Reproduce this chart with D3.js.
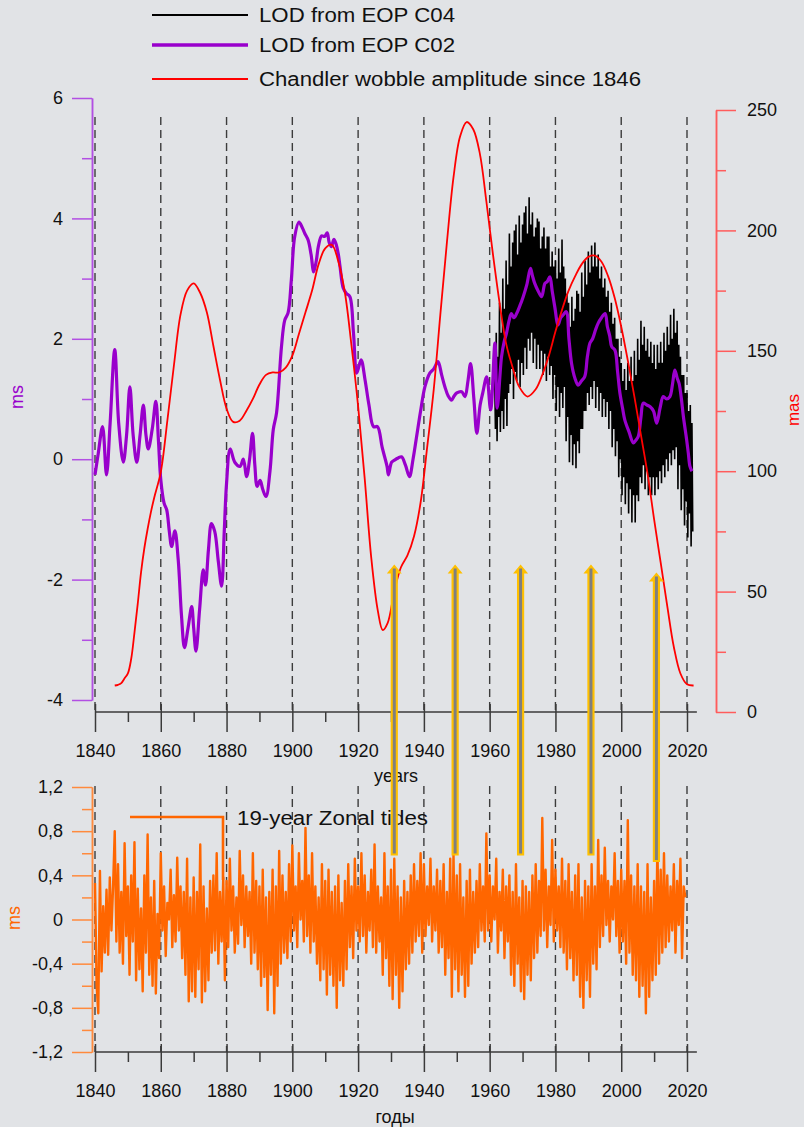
<!DOCTYPE html>
<html><head><meta charset="utf-8">
<script src="https://cdn.jsdelivr.net/npm/d3@7"></script>
<style>
body{margin:0;background:#e1e3e6}
svg{display:block}
text{font-family:Arial,"Liberation Sans",sans-serif}
</style></head>
<body><svg id="c" width="804" height="1127"></svg>
<script>
// ---------- DATA ----------
const yearTicks = [1840,1860,1880,1900,1920,1940,1960,1980,2000,2020];
const yearMinorTicks = [1850,1870,1890,1910,1930,1950,1970,1990,2010];
const msTicks = [-4,-2,0,2,4,6];
const msMinorTicks = [-3,-1,1,3,5];
const masTicks = [0,50,100,150,200,250];
const masMinorTicks = [25,75,125,175,225];
const tideTicks = [-1.2,-0.8,-0.4,0,0.4,0.8,1.2];
const tideMinorTicks = [-1.0,-0.6,-0.2,0.2,0.6,1.0];

// LOD from EOP C02 (ms)
const c02Years = [1840,1841,1842.3,1843.5,1844.6,1846,1847.2,1848.6,1849.6,1850.6,1851.6,1852.7,1853.7,1854.7,1855.5,1856.2,1857.4,1858.5,1859.3,1860,1861,1861.8,1862.6,1863.3,1864.3,1865.3,1866.3,1867.2,1868.3,1869.4,1870,1870.7,1871.8,1872.9,1873.6,1874.5,1875.4,1876.4,1877.5,1878.5,1879.3,1880,1881.1,1882.5,1884.1,1885.1,1886.1,1887,1887.9,1888.6,1889.3,1890.2,1891,1892,1893.2,1894.2,1895.2,1896.7,1897.7,1898.7,1899.7,1900.7,1902,1903,1903.8,1904.8,1905.7,1906.5,1907.3,1907.9,1908.9,1909.8,1910.6,1911.2,1911.9,1912.6,1913.2,1914,1914.5,1915.5,1916.5,1917.5,1918.6,1919.6,1920.9,1922.1,1923.3,1924.7,1925.9,1927.3,1928.8,1929.2,1930.2,1931.2,1932.2,1933.2,1934.4,1935.6,1936.7,1937.8,1939,1940.3,1941.8,1943,1944.3,1945.4,1946.4,1947.4,1948.4,1949.2,1950,1951.5,1952.5,1953.4,1954.2,1955.2,1956.1,1957.1,1957.9,1959.1,1960.3,1961.6,1962.3,1963.6,1964.4,1965.1,1965.9,1966.6,1967.4,1968.2,1969.2,1970.2,1971.3,1972.4,1973,1973.7,1974.7,1975.8,1976.8,1977.5,1978.3,1979,1979.8,1980.8,1981.6,1982.4,1983.3,1984.1,1984.9,1985.9,1986.9,1987.9,1988.9,1989.7,1990.5,1991.3,1992.2,1993,1994,1995.1,1995.8,1996.5,1997.1,1998.1,1998.9,1999.6,2000.4,2001.1,2002.4,2003.7,2004.5,2005.2,2006,2006.7,2007.8,2008.8,2009.8,2010.8,2011.8,2012.8,2013.8,2014.8,2015.6,2016.3,2017,2017.6,2018.3,2018.9,2019.9,2020.4,2020.9,2021.5];
const c02Values = [-0.26,0.1,0.54,-0.26,0.6,1.82,0.6,-0.05,0.4,1.2,0.4,-0.05,0.4,0.9,0.4,0.17,0.5,0.96,0.3,-0.34,-0.73,-0.84,-1.2,-1.45,-1.19,-1.67,-2.6,-3.13,-2.8,-2.45,-2.8,-3.19,-2.5,-1.84,-2.09,-1.5,-1.07,-1.2,-1.7,-2.11,-1.2,-0.4,0.17,-0.05,-0.12,0.0,-0.29,0.0,0.43,-0.1,-0.45,-0.35,-0.5,-0.62,-0.2,0.49,0.77,1.87,2.31,2.43,2.98,3.69,3.94,3.85,3.75,3.64,3.4,3.11,3.3,3.53,3.71,3.7,3.76,3.6,3.53,3.65,3.59,3.4,3.2,2.84,2.75,2.7,2.09,1.43,1.65,1.32,0.9,0.54,0.54,0.2,-0.12,-0.26,-0.05,-0.01,0.02,0.04,-0.1,-0.29,0.0,0.38,0.8,1.2,1.43,1.5,1.62,1.4,1.2,1.05,0.98,1.05,1.1,1.12,1.04,1.3,1.59,1.0,0.43,0.9,1.1,1.37,0.82,1.93,0.85,1.7,1.95,2.09,2.3,2.42,2.35,2.42,2.55,2.7,2.9,3.17,3.05,2.92,2.8,2.7,2.92,2.95,3.03,2.8,2.53,2.23,2.35,2.4,2.45,2.0,1.59,1.35,1.23,1.3,1.37,1.7,1.93,2.0,2.15,2.26,2.35,2.42,2.2,2.05,1.87,1.81,1.45,1.1,0.85,0.65,0.45,0.27,0.32,0.38,0.7,0.93,0.9,0.87,0.8,0.6,0.85,1.04,1.0,1.04,1.25,1.48,1.35,1.26,1.0,0.71,0.32,0.1,-0.12,-0.2];

// LOD from EOP C04 (ms), quarter-year samples from 1961.5
const c04Start = 1961.5, c04Step = 0.25;
const c04Values = [1.5,0.5,
2.1,0.3,1.7,0.7, 2.6,0.45,2.1,0.8, 3.0,0.5,2.5,1.0, 3.3,0.55,2.9,1.1, 3.75,1.25,3.2,1.5,
3.6,1.0,3.8,1.45, 3.9,1.3,3.4,1.65, 4.05,1.2,3.6,1.6, 3.9,1.4,4.1,1.85, 4.2,1.5,3.75,2.0,
4.35,1.8,3.9,2.1, 4.1,1.6,3.7,2.0, 3.85,1.5,4.0,1.9, 3.95,1.5,3.5,1.8, 3.7,1.4,3.85,1.75,
3.5,1.3,3.7,1.7, 3.7,1.4,3.2,1.55, 3.45,1.0,3.2,1.4, 3.3,0.8,3.0,1.2, 3.5,0.7,3.1,1.1,
3.65,0.85,3.2,1.2, 3.0,0.3,2.75,0.7, 2.6,-0.05,2.2,0.4, 2.7,-0.1,2.3,0.25, 2.5,-0.15,2.8,0.3,
2.75,0.1,2.45,0.5, 3.1,0.5,2.7,0.8, 3.3,0.8,2.9,1.1, 3.45,0.9,3.1,1.2, 3.55,1.0,3.2,1.3,
3.6,0.85,3.2,1.2, 3.4,0.8,3.0,1.1, 3.2,0.7,2.85,1.0, 3.0,0.7,2.7,0.95, 2.8,0.5,2.45,0.8,
2.6,0.2,2.25,0.5, 2.35,0.05,2.0,0.3, 2.0,-0.3,1.7,0.0, 1.6,-0.6,1.3,-0.3, 1.5,-0.75,1.15,-0.4,
1.6,-0.9,1.3,-0.5, 1.7,-1.05,1.3,-0.6, 1.8,-1.05,1.4,-0.6, 2.0,-0.7,1.65,-0.3, 2.3,-0.4,1.9,-0.1,
2.2,-0.5,1.8,-0.2, 2.0,-0.6,1.7,-0.3, 1.95,-0.6,1.6,-0.3, 1.9,-0.6,1.5,-0.3, 1.9,-0.5,1.6,-0.2,
1.95,-0.4,1.6,-0.1, 2.1,-0.3,1.8,0.0, 2.2,-0.2,1.9,0.1, 2.4,-0.1,2.0,0.15, 2.5,0.0,2.1,0.2,
2.3,-0.5,1.9,-0.1, 1.7,-0.85,1.4,-0.5, 1.4,-1.1,1.1,-0.7, 1.1,-1.3,0.8,-0.9, 0.9,-1.45,0.6,-1.2];

// Chandler wobble amplitude (mas)
const cwYears = [1846,1847,1848,1849,1850,1851,1852,1853,1854,1855,1856,1857,1858,1860,1862,1864,1866,1868,1870,1872,1874,1876,1878,1880,1882,1884,1886,1888,1890,1892,1894,1896,1898,1900,1902,1904,1906,1908,1910,1912,1914,1916,1918,1920,1922,1924,1926,1927.5,1929,1931,1933,1935,1937,1939,1941,1943,1945,1947,1949,1951,1953,1955,1957,1959,1961,1963,1965,1967,1969,1971.5,1974,1976,1978,1980,1982,1984,1986,1988,1990,1992,1994,1996,1998,2000,2002,2004,2006,2008,2010,2012,2014,2016,2018,2020,2022];
const cwValues = [11,11.3,12,14,16,22,33,45,58,68,76,83,89,99.6,121,144,165,175,178,174,166,152,138,126,120.5,121,125,130,136,140,141,141,143,148,157,166,175,186,192.5,194,187,174,152,127,97,64,42,34,37,50,60,65,73,87,110,134,165,195,222,239,245,242,232,212,190,170,153,143,135,131,134,140,148,158,167,175,181,186,189,189.5,187,181,172,160,146,131,115,99,80,62,44,27,16,11.5,11];

// 19-year zonal tides (ms), half-year samples from 1840
const tideStart = 1840, tideStep = 0.5;
const tideValues = [
0.33,-0.6,-0.85,0.44,-0.47,0.12,-0.3,0.27,-0.32,0.38,-0.1,0.3,0.8,-0.2,0.5,-0.3,0.25,-0.4,0.69,-0.15,
0.3,-0.5,0.4,-0.2,0.7,-0.55,0.28,-0.45,0.1,-0.65,0.4,-0.3,0.77,-0.5,0.2,-0.6,0.35,-0.67,0.05,-0.35,
0.6,-0.1,0.3,-0.33,0.15,0.0,0.45,-0.25,0.22,-0.2,0.56,-0.1,0.3,-0.35,0.25,-0.5,0.55,-0.74,0.2,-0.65,
0.38,-0.7,0.25,-0.45,0.68,-0.75,0.3,-0.65,0.1,-0.55,0.35,-0.3,0.4,-0.28,0.6,-0.4,0.25,-0.2,0.38,-0.55,
0.35,-0.25,0.55,-0.1,0.3,-0.3,0.2,-0.22,0.62,-0.05,0.4,-0.25,0.3,-0.15,0.25,-0.4,0.6,-0.3,0.35,-0.45,
0.3,-0.6,0.45,-0.52,0.2,-0.82,0.25,-0.5,0.45,-0.85,0.3,-0.6,0.62,-0.4,0.4,-0.3,0.25,-0.35,0.5,-0.2,
0.67,-0.1,0.3,-0.25,0.6,0.0,0.35,-0.2,0.83,-0.15,0.4,-0.3,0.6,-0.2,0.3,-0.4,0.2,-0.55,0.5,-0.45,
0.35,-0.68,0.45,-0.5,0.25,-0.6,0.3,-0.8,0.4,-0.55,0.15,-0.6,0.35,-0.45,0.5,-0.25,0.3,-0.35,0.55,-0.1,
0.3,-0.2,0.6,-0.15,0.4,-0.3,0.25,-0.1,0.45,-0.25,0.68,-0.3,0.3,-0.2,0.2,-0.5,0.6,-0.35,0.3,-0.6,
0.45,-0.72,0.55,-0.5,0.3,-0.8,0.2,-0.65,0.35,-0.45,0.25,-0.4,0.4,-0.3,0.5,-0.2,0.35,-0.15,0.6,-0.3,
0.5,-0.15,0.3,-0.05,0.55,-0.2,0.3,-0.1,0.45,-0.3,0.35,-0.25,0.5,-0.5,0.25,-0.35,0.55,-0.7,0.6,-0.45,
0.4,-0.65,0.5,-0.5,0.2,-0.7,0.35,-0.6,0.45,-0.4,0.25,-0.3,0.35,-0.25,0.5,-0.1,0.3,-0.2,0.78,-0.1,
0.4,-0.2,0.3,0.0,0.55,-0.3,0.25,-0.1,0.45,-0.35,0.3,-0.2,0.4,-0.5,0.25,-0.6,0.5,-0.4,0.2,-0.65,
0.35,-0.72,0.3,-0.5,0.25,-0.55,0.4,-0.35,0.5,-0.3,0.35,-0.15,0.92,-0.1,0.45,-0.25,0.3,-0.05,0.72,-0.2,
0.45,-0.1,0.3,-0.25,0.55,-0.3,0.35,-0.45,0.5,-0.35,0.25,-0.55,0.4,-0.5,0.5,-0.7,0.2,-0.8,0.35,-0.55,
0.3,-0.7,0.5,-0.4,0.3,-0.45,0.72,-0.25,0.4,-0.15,0.65,-0.05,0.35,-0.2,0.3,0.0,0.6,-0.15,0.35,-0.3,
0.45,-0.2,0.35,-0.4,0.9,-0.3,0.4,-0.5,0.3,-0.55,0.5,-0.7,0.3,-0.6,0.25,-0.85,0.5,-0.7,0.2,-0.55,
0.35,-0.5,0.69,-0.4,0.45,-0.3,0.6,-0.25,0.4,-0.2,0.3,-0.1,0.5,-0.3,0.35,-0.05,0.55,-0.35,0.3,0.2];

// Arrows: year, tip (ms, upper chart), base (ms, tides chart)
const arrowYears = [1931, 1949.5, 1969.4, 1990.8, 2010.7];
const arrowTips = [-1.75, -1.75, -1.75, -1.75, -1.88];
const arrowBases = [0.58, 0.58, 0.58, 0.58, 0.52];

const legendLabels = ["LOD from EOP C04", "LOD from EOP C02", "Chandler wobble amplitude since 1846"];
const tideLabel = "19-year Zonal tides";

// ---------- CHART ----------
const svg = d3.select("#c");
const x = d3.scaleLinear().domain([1840, 2020]).range([95, 687]);
const yL = d3.scaleLinear().domain([-4, 6]).range([700, 98]);
const yR = d3.scaleLinear().domain([0, 250]).range([712, 110]);
const yB = d3.scaleLinear().domain([-1.2, 1.2]).range([1052, 787]);

const FONT = 'Arial,"Liberation Sans",sans-serif';
function styleAxis(g, color, fs) {
  g.attr("font-family", FONT).attr("font-size", fs || 18);
  g.selectAll("line,path").attr("stroke", color).attr("stroke-width", 1.5);
  g.selectAll("text").attr("fill", "#111");
}
const comma = d => String(+d.toFixed(1)).replace(".", ",");

// gridlines
const grid = svg.append("g").attr("stroke", "#3c3c3c").attr("stroke-width", 1.4).attr("stroke-dasharray", "8,5");
grid.selectAll(".gt").data(yearTicks).join("line").attr("class","gt")
  .attr("x1", d => x(d)).attr("x2", d => x(d)).attr("y1", 117).attr("y2", yR(0));
grid.selectAll(".gb").data(yearTicks).join("line").attr("class","gb")
  .attr("x1", d => x(d)).attr("x2", d => x(d)).attr("y1", 786).attr("y2", yB(-1.2));

// x axes
function xAxis(yPos) {
  svg.append("line").attr("x1", x(1840)).attr("x2", x(2023)).attr("y1", yPos).attr("y2", yPos)
    .attr("stroke", "#3a3a3a").attr("stroke-width", 1.5);
  const gm = svg.append("g").attr("transform", `translate(0,${yPos})`)
    .call(d3.axisBottom(x).tickValues(yearMinorTicks).tickSize(10).tickFormat("").tickSizeOuter(0));
  gm.select(".domain").remove();
  styleAxis(gm, "#3a3a3a");
  const g = svg.append("g").attr("transform", `translate(0,${yPos})`)
    .call(d3.axisBottom(x).tickValues(yearTicks).tickSize(20).tickPadding(12).tickFormat(d3.format("d")).tickSizeOuter(0));
  g.select(".domain").remove();
  g.selectAll(".tick line").attr("y1", -8);
  styleAxis(g, "#3a3a3a");
}
xAxis(yR(0));
xAxis(yB(-1.2));

// left ms axis (top)
const lm = svg.append("g").attr("transform", "translate(92,0)")
  .call(d3.axisLeft(yL).tickValues(msMinorTicks).tickSize(10).tickFormat("").tickSizeOuter(0));
styleAxis(lm, "#b24fe3");
const lM = svg.append("g").attr("transform", "translate(92,0)")
  .call(d3.axisLeft(yL).tickValues(msTicks).tickSize(20).tickPadding(9).tickFormat(d => String(d)).tickSizeOuter(0));
styleAxis(lM, "#b24fe3");

// right mas axis
const rm = svg.append("g").attr("transform", "translate(716,0)")
  .call(d3.axisRight(yR).tickValues(masMinorTicks).tickSize(10).tickFormat("").tickSizeOuter(0));
styleAxis(rm, "#ff5c5c");
const rM = svg.append("g").attr("transform", "translate(716,0)")
  .call(d3.axisRight(yR).tickValues(masTicks).tickSize(20).tickPadding(11).tickFormat(d => String(d)).tickSizeOuter(0));
styleAxis(rM, "#ff5c5c");

// bottom tides axis
const bm = svg.append("g").attr("transform", "translate(92,0)")
  .call(d3.axisLeft(yB).tickValues(tideMinorTicks).tickSize(10).tickFormat("").tickSizeOuter(0));
styleAxis(bm, "#ff8a3d");
const bM = svg.append("g").attr("transform", "translate(92,0)")
  .call(d3.axisLeft(yB).tickValues(tideTicks).tickSize(20).tickPadding(9).tickFormat(comma).tickSizeOuter(0));
styleAxis(bM, "#ff8a3d");

// axis titles
svg.append("text").attr("transform", "translate(23,397) rotate(-90)").attr("text-anchor", "middle")
  .attr("font-size", 18).attr("fill", "#9900cc").text("ms");
svg.append("text").attr("transform", "translate(799,410) rotate(-90)").attr("text-anchor", "middle")
  .attr("font-size", 17).attr("fill", "#ff0000").text("mas");
svg.append("text").attr("transform", "translate(20,918) rotate(-90)").attr("text-anchor", "middle")
  .attr("font-size", 18).attr("fill", "#ff6600").text("ms");
svg.append("text").attr("x", 396).attr("y", 782).attr("text-anchor", "middle")
  .attr("font-size", 18).attr("fill", "#111").text("years");
svg.append("text").attr("x", 395).attr("y", 1123).attr("text-anchor", "middle")
  .attr("font-size", 18).attr("fill", "#111").text("годы");

// tides series
const tideLine = d3.line().x((d, i) => x(tideStart + i * tideStep)).y(d => yB(d));
svg.append("path").datum(tideValues).attr("d", tideLine)
  .attr("fill", "none").attr("stroke", "#ff6600").attr("stroke-width", 2.4).attr("stroke-linejoin", "round");

// C04 black
const c04Line = d3.line().x((d, i) => x(c04Start + i * c04Step)).y(d => yL(d));
svg.append("path").datum(c04Values).attr("d", c04Line)
  .attr("fill", "none").attr("stroke", "#000").attr("stroke-width", 1.6);

// C02 purple
const c02 = c02Years.map((yr, i) => [yr, c02Values[i]]);
svg.append("path").datum(c02)
  .attr("d", d3.line().x(d => x(d[0])).y(d => yL(d[1])).curve(d3.curveCatmullRom.alpha(0.5)))
  .attr("fill", "none").attr("stroke", "#9900cc").attr("stroke-width", 3.2).attr("stroke-linejoin", "round");

// Chandler red
const cw = cwYears.map((yr, i) => [yr, cwValues[i]]);
svg.append("path").datum(cw)
  .attr("d", d3.line().x(d => x(d[0])).y(d => yR(d[1])).curve(d3.curveCatmullRom.alpha(0.5)))
  .attr("fill", "none").attr("stroke", "#ff0000").attr("stroke-width", 1.8);

// legend (top)
const legY = [15, 45, 79];
const legColors = ["#000", "#9900cc", "#ff0000"];
const legWidths = [2, 3.5, 2];
const legLens = [196, 196, 382];
legendLabels.forEach((lab, i) => {
  svg.append("line").attr("x1", 152).attr("x2", 248).attr("y1", legY[i]).attr("y2", legY[i])
    .attr("stroke", legColors[i]).attr("stroke-width", legWidths[i]);
  svg.append("text").attr("x", 259).attr("y", legY[i] + 7).attr("font-size", 20).attr("fill", "#111")
    .attr("textLength", legLens[i]).attr("lengthAdjust", "spacingAndGlyphs").text(lab);
});

// legend (tides)
svg.append("path").attr("d", "M130,817H223V880").attr("fill", "none")
  .attr("stroke", "#ff6600").attr("stroke-width", 2.6);
svg.append("text").attr("x", 237).attr("y", 825).attr("font-size", 20).attr("fill", "#111")
  .attr("textLength", 191).attr("lengthAdjust", "spacingAndGlyphs").text(tideLabel);

// arrows
arrowYears.forEach((yr, i) => {
  const ax = x(yr), tip = yL(arrowTips[i]), base = yB(arrowBases[i]);
  const g = svg.append("g");
  g.append("path")
    .attr("d", `M${ax},${tip}L${ax + 7.5},${tip + 9}L${ax + 3.6},${tip + 9}L${ax + 3.6},${base}L${ax - 3.6},${base}L${ax - 3.6},${tip + 9}L${ax - 7.5},${tip + 9}Z`)
    .attr("fill", "#ffc000");
  g.append("line").attr("x1", ax).attr("x2", ax).attr("y1", tip + 4).attr("y2", base - 2)
    .attr("stroke", "#7f7f7f").attr("stroke-width", 3);
});
</script></body></html>
